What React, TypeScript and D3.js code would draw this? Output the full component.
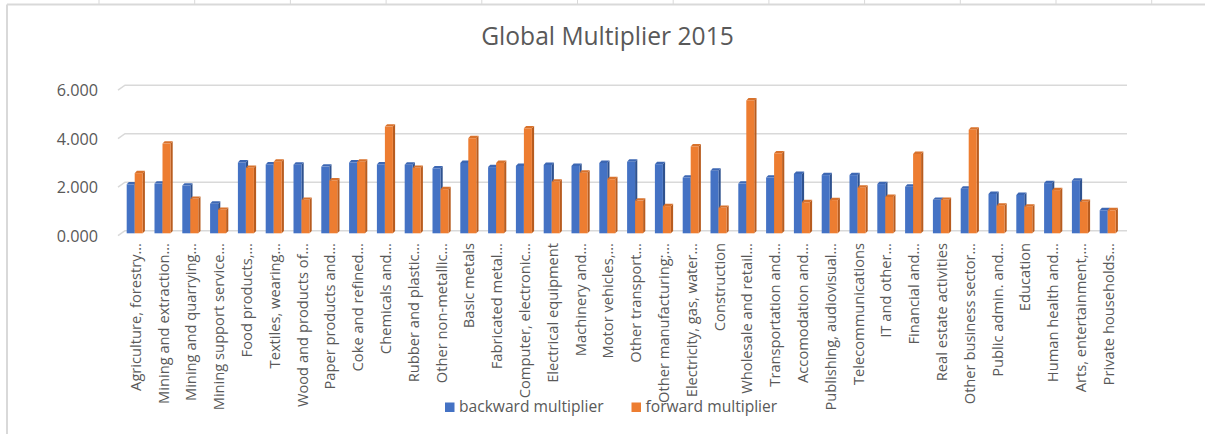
import React from "react";
import * as d3 from "d3";

const categories: string[] = [
  "Agriculture, forestry…",
  "Mining and extraction…",
  "Mining and quarrying…",
  "Mining support service…",
  "Food products,…",
  "Textiles, wearing…",
  "Wood and products of…",
  "Paper products and…",
  "Coke and refined…",
  "Chemicals and…",
  "Rubber and plastic…",
  "Other non-metallic…",
  "Basic metals",
  "Fabricated metal…",
  "Computer, electronic…",
  "Electrical equipment",
  "Machinery and…",
  "Motor vehicles,…",
  "Other transport…",
  "Other manufacturing;…",
  "Electricity, gas, water…",
  "Construction",
  "Wholesale and retail…",
  "Transportation and…",
  "Accomodation and…",
  "Publishing, audiovisual…",
  "Telecommunications",
  "IT and other…",
  "Financial and…",
  "Real estate activities",
  "Other business sector…",
  "Public admin. and…",
  "Education",
  "Human health and…",
  "Arts, entertainment,…",
  "Private households…",
];

const backward: number[] = [
  2.02, 2.05, 1.97, 1.22, 2.92, 2.84, 2.83, 2.75, 2.92, 2.84, 2.83, 2.68,
  2.9, 2.73, 2.78, 2.82, 2.78, 2.9, 2.95, 2.85, 2.3, 2.58, 2.05, 2.3,
  2.45, 2.4, 2.4, 2.03, 1.92, 1.38, 1.84, 1.62, 1.58, 2.07, 2.17, 0.95,
];

const forward: number[] = [
  2.48, 3.7, 1.42, 0.97, 2.7, 2.95, 1.38, 2.18, 2.95, 4.4, 2.7, 1.82,
  3.92, 2.9, 4.33, 2.13, 2.5, 2.23, 1.35, 1.12, 3.58, 1.05, 5.48, 3.3,
  1.28, 1.37, 1.88, 1.5, 3.27, 1.38, 4.27, 1.14, 1.1, 1.78, 1.3, 0.95,
];

const yTicks: number[] = [0, 2, 4, 6];
const seriesNames: string[] = ["backward multiplier", "forward multiplier"];

const W = 1205;
const H = 434;
const FONT = "'Open Sans', 'Noto Sans', sans-serif";
const TEXT = "#595959";
const GRID = "#D9D9D9";
const COLORS = ["#4472C4", "#ED7D31"];
const SIDE = ["#2F528F", "#B85C1F"];
const TOP = ["#3D67B3", "#D8722C"];

export default function App() {
  const x = d3
    .scaleBand<string>()
    .domain(categories)
    .range([120.8, 1121.6])
    .padding(0);
  const barW = 8;
  const dx = 2.2;
  const dy = 2.4;
  const yBar = d3.scaleLinear().domain([0, 6]).range([233.3, 87.8]);
  const yBack = d3.scaleLinear().domain([0, 6]).range([230.7, 85.2]);
  const y0 = yBar(0);

  const sheetCols = d3.range(0, 12).map((k) => 99 + k * 95.7);

  const renderBar = (cat: string, v: number, s: number, i: number) => {
    const cx = (x(cat) as number) + x.bandwidth() / 2;
    const bx = s === 0 ? cx - barW : cx;
    const by = yBar(v);
    return (
      <g key={`${s}-${i}`}>
        <polygon
          points={`${bx + barW},${by} ${bx + barW + dx},${by - dy} ${bx + barW + dx},${y0 - dy} ${bx + barW},${y0}`}
          fill={SIDE[s]}
        />
        <polygon
          points={`${bx},${by} ${bx + dx},${by - dy} ${bx + barW + dx},${by - dy} ${bx + barW},${by}`}
          fill={TOP[s]}
        />
        <rect x={bx} y={by} width={barW} height={y0 - by} fill={COLORS[s]} />
      </g>
    );
  };

  return (
    <svg
      width={W}
      height={H}
      style={{ position: "absolute", left: 0, top: 0, background: "#fff" }}
      fontFamily={FONT}
    >
      <rect x={0} y={0} width={W} height={H} fill="#fff" />
      {sheetCols.map((cx, k) => (
        <line key={k} x1={cx} x2={cx} y1={0} y2={5} stroke={GRID} strokeWidth={1} />
      ))}
      <line x1={7} x2={W} y1={4.5} y2={4.5} stroke={GRID} strokeWidth={2} />
      <line x1={7} x2={7} y1={4.5} y2={H} stroke={GRID} strokeWidth={2} />

      <text
        x={607.5}
        y={45}
        textAnchor="middle"
        fontSize={24.6}
        fill={TEXT}
      >
        Global Multiplier 2015
      </text>

      {yTicks.map((t) => {
        const yb = yBack(t);
        return (
          <g key={t}>
            <path
              d={`M118,${yb + 5} L125,${yb} L1127,${yb}`}
              fill="none"
              stroke={GRID}
              strokeWidth={1.5}
            />
            <text
              x={98}
              y={yb + 5.5}
              dy="0.35em"
              textAnchor="end"
              fontSize={16.2}
              fill={TEXT}
            >
              {d3.format(".3f")(t)}
            </text>
          </g>
        );
      })}

      {categories.map((c, i) => renderBar(c, backward[i], 0, i))}
      {categories.map((c, i) => renderBar(c, forward[i], 1, i))}

      {categories.map((c) => {
        const cx = (x(c) as number) + x.bandwidth() / 2 + 1;
        return (
          <text
            key={c}
            transform={`translate(${cx},243) rotate(-90)`}
            textAnchor="end"
            dy="0.35em"
            fontSize={14.7}
            fill={TEXT}
          >
            {c}
          </text>
        );
      })}

      {seriesNames.map((n, s) => {
        const lx = s === 0 ? 445 : 631.5;
        return (
          <g key={n}>
            <rect x={lx} y={402.5} width={9.5} height={9.5} fill={COLORS[s]} />
            <text x={lx + 14} y={407} dy="0.35em" fontSize={15.6} fill={TEXT}>
              {n}
            </text>
          </g>
        );
      })}
    </svg>
  );
}
